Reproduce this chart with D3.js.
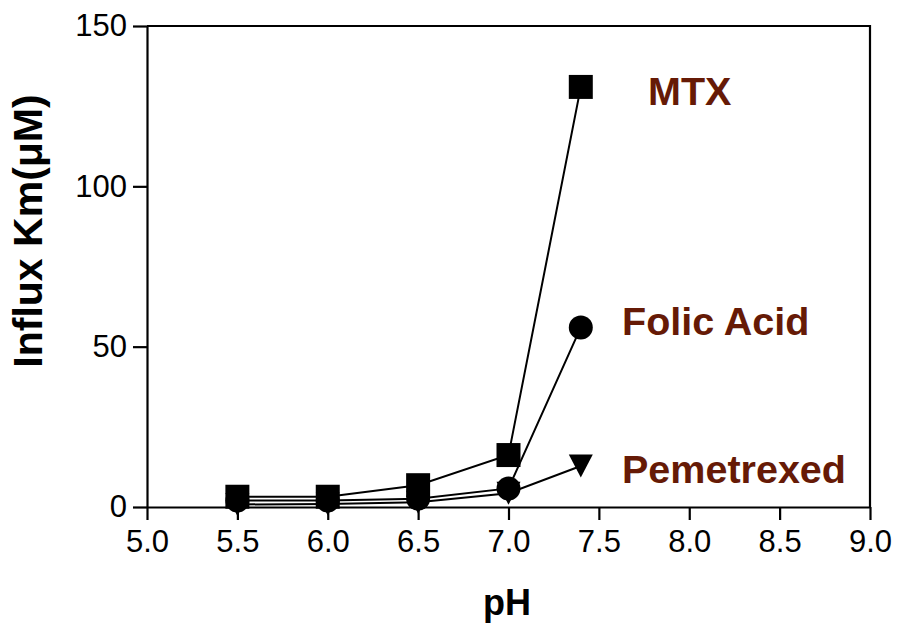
<!DOCTYPE html>
<html>
<head>
<meta charset="utf-8">
<script src="https://cdn.jsdelivr.net/npm/d3@7"></script>
<style>
  body { margin: 0; background: #fff; }
  svg { display: block; font-family: "Liberation Sans", Arial, sans-serif; }
</style>
</head>
<body>
<div id="chart"></div>
<script>
// values
var phValues = [5.5, 6.0, 6.5, 7.0, 7.4];
var mtxKm = [3.2, 3.2, 6.8, 16.2, 131];
var folicKm = [2.0, 2.0, 2.6, 5.8, 56];
var pemetrexedKm = [0.8, 0.9, 1.5, 4.3, 12.8];
var seriesNames = ['MTX', 'Folic Acid', 'Pemetrexed'];
var xTicks = [5.0, 5.5, 6.0, 6.5, 7.0, 7.5, 8.0, 8.5, 9.0];
var yTicks = [0, 50, 100, 150];

function drawChart() {
    var width = 897, height = 626;
    var plotLeft = 147, plotRight = 870, plotTop = 26, plotBottom = 507;
    var ink = '#000';
    var labelColor = '#661a06';

    var svg = d3.select('#chart').append('svg')
        .attr('width', width)
        .attr('height', height);

    var x = d3.scaleLinear().domain([5, 9]).range([plotLeft, plotRight]);
    var y = d3.scaleLinear().domain([0, 150]).range([plotBottom, plotTop]);

    // frame (top and right)
    svg.append('path')
        .attr('d', 'M' + plotLeft + ',' + plotTop + 'H' + plotRight + 'V' + plotBottom)
        .attr('fill', 'none')
        .attr('stroke', ink)
        .attr('stroke-width', 2.2);

    var xAxis = svg.append('g')
        .attr('transform', 'translate(0,' + plotBottom + ')')
        .call(d3.axisBottom(x).tickValues(xTicks).tickFormat(d3.format('.1f'))
            .tickSize(13).tickSizeOuter(0).tickPadding(10));

    var yAxis = svg.append('g')
        .attr('transform', 'translate(' + plotLeft + ',0)')
        .call(d3.axisLeft(y).tickValues(yTicks).tickFormat(d3.format('d'))
            .tickSize(14).tickSizeOuter(0).tickPadding(6));

    [xAxis, yAxis].forEach(function(ax) {
        ax.select('.domain').attr('stroke', ink).attr('stroke-width', 2.2);
        ax.selectAll('.tick line').attr('stroke', ink).attr('stroke-width', 2.2);
        ax.selectAll('.tick text')
            .attr('fill', ink)
            .style('font-size', '31px')
            .style('font-family', '"Liberation Sans", Arial, sans-serif');
    });

    // axis titles
    svg.append('text')
        .attr('x', 507)
        .attr('y', 615)
        .attr('text-anchor', 'middle')
        .style('font-size', '36px')
        .style('font-weight', 'bold')
        .text('pH');

    svg.append('text')
        .attr('transform', 'translate(42,231) rotate(-90)')
        .attr('text-anchor', 'middle')
        .style('font-size', '41px')
        .style('font-weight', 'bold')
        .text('Influx Km(μM)');

    var series = [
        { name: seriesNames[2], values: pemetrexedKm, shape: 'triangle', lx: 622, ly: 483 },
        { name: seriesNames[1], values: folicKm, shape: 'circle', lx: 622, ly: 335 },
        { name: seriesNames[0], values: mtxKm, shape: 'square', lx: 648, ly: 105 }
    ];

    var line = d3.line()
        .x(function(d, i) { return x(phValues[i]); })
        .y(function(d) { return y(d); });

    series.forEach(function(s) {
        svg.append('path')
            .datum(s.values)
            .attr('d', line)
            .attr('fill', 'none')
            .attr('stroke', ink)
            .attr('stroke-width', 2);
    });

    function marker(shape) {
        if (shape === 'square') return 'M-12,-12H12V12H-12Z';
        if (shape === 'circle') return d3.symbol().type(d3.symbolCircle).size(Math.PI * 12 * 12)();
        return 'M-12,-11.5H12L0,11.5Z';
    }

    series.forEach(function(s) {
        svg.append('g').selectAll('path')
            .data(s.values)
            .join('path')
            .attr('d', marker(s.shape))
            .attr('transform', function(d, i) { return 'translate(' + x(phValues[i]) + ',' + y(d) + ')'; })
            .attr('fill', ink);

        svg.append('text')
            .attr('x', s.lx)
            .attr('y', s.ly)
            .attr('fill', labelColor)
            .style('font-size', '39.5px')
            .style('font-weight', 'bold')
            .text(s.name);
    });
}

drawChart();
</script>
</body>
</html>
